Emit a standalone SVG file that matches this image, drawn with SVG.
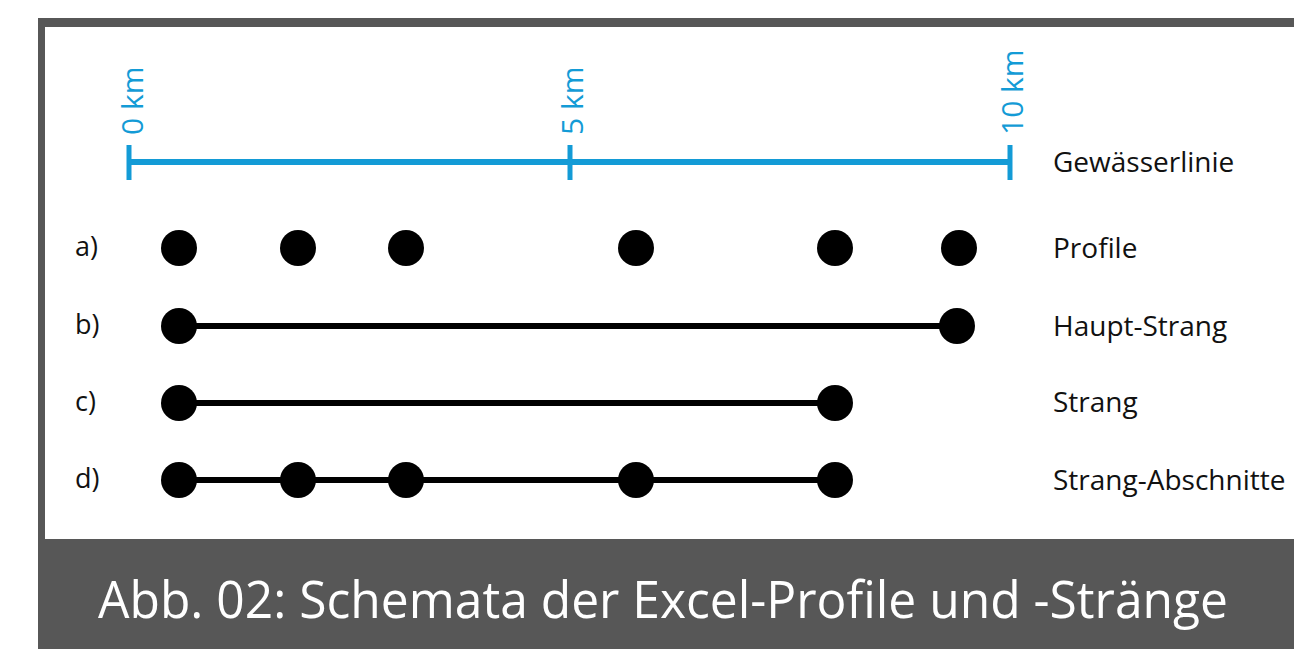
<svg xmlns="http://www.w3.org/2000/svg" width="1294" height="649" viewBox="0 0 1294 649">
  <style>
    .frame { fill: #575757; }
    .panel { fill: #ffffff; }
    .scale { stroke: #139bd6; stroke-width: 6; fill: none; }
    .tick { stroke: #139bd6; stroke-width: 5; fill: none; }
    .km { font-family: "Open Sans", "Liberation Sans", sans-serif; font-size: 30px; fill: #139bd6; }
    .lbl { font-family: "Open Sans", "Liberation Sans", sans-serif; font-size: 28px; fill: #111111; }
    .row { font-family: "Open Sans", "Liberation Sans", sans-serif; font-size: 27px; fill: #111111; }
    .dot { fill: #000000; }
    .link { stroke: #000000; stroke-width: 6; fill: none; }
    .caption { font-family: "Open Sans", "Liberation Sans", sans-serif; font-size: 52px; fill: #ffffff; }
  </style>

  <!-- frame and white drawing panel -->
  <rect class="frame" x="38" y="18" width="1256" height="631"/>
  <rect class="panel" x="45" y="27" width="1249" height="512"/>

  <!-- river line with km scale -->
  <g id="gewaesserlinie">
    <line class="scale" x1="128" y1="162" x2="1011" y2="162"/>
    <line class="tick" x1="129" y1="145" x2="129" y2="180"/>
    <line class="tick" x1="570" y1="145" x2="570" y2="180"/>
    <line class="tick" x1="1010" y1="145" x2="1010" y2="180"/>
    <text class="km" transform="translate(143,135) rotate(-90)">0 km</text>
    <text class="km" transform="translate(583,135) rotate(-90)">5 km</text>
    <text class="km" transform="translate(1023,135) rotate(-90)">10 km</text>
    <text class="lbl" x="1053" y="172">Gewässerlinie</text>
  </g>

  <!-- connectors -->
  <g id="connectors">
    <line class="link" x1="179" y1="326" x2="957" y2="326"/>
    <line class="link" x1="179" y1="403" x2="835" y2="403"/>
    <line class="link" x1="179" y1="480" x2="835" y2="480"/>
  </g>

  <!-- a) profiles -->
  <g id="row-a">
    <text class="row" x="75" y="256">a)</text>
    <circle class="dot" cx="179" cy="248" r="18"/>
    <circle class="dot" cx="298" cy="248" r="18"/>
    <circle class="dot" cx="406" cy="248" r="18"/>
    <circle class="dot" cx="636" cy="248" r="18"/>
    <circle class="dot" cx="835" cy="248" r="18"/>
    <circle class="dot" cx="959" cy="248" r="18"/>
    <text class="lbl" x="1053" y="258">Profile</text>
  </g>

  <!-- b) main string -->
  <g id="row-b">
    <text class="row" x="75" y="334">b)</text>
    <circle class="dot" cx="179" cy="326" r="18"/>
    <circle class="dot" cx="957" cy="326" r="18"/>
    <text class="lbl" x="1053" y="336">Haupt-Strang</text>
  </g>

  <!-- c) string -->
  <g id="row-c">
    <text class="row" x="75" y="411">c)</text>
    <circle class="dot" cx="179" cy="403" r="18"/>
    <circle class="dot" cx="835" cy="403" r="18"/>
    <text class="lbl" x="1053" y="412">Strang</text>
  </g>

  <!-- d) string sections -->
  <g id="row-d">
    <text class="row" x="75" y="488">d)</text>
    <circle class="dot" cx="179" cy="480" r="18"/>
    <circle class="dot" cx="298" cy="480" r="18"/>
    <circle class="dot" cx="406" cy="480" r="18"/>
    <circle class="dot" cx="636" cy="480" r="18"/>
    <circle class="dot" cx="835" cy="480" r="18"/>
    <text class="lbl" x="1053" y="490">Strang-Abschnitte</text>
  </g>

  <text class="caption" x="98" y="618" textLength="1130" lengthAdjust="spacingAndGlyphs">Abb. 02: Schemata der Excel-Profile und -Stränge</text>
</svg>
